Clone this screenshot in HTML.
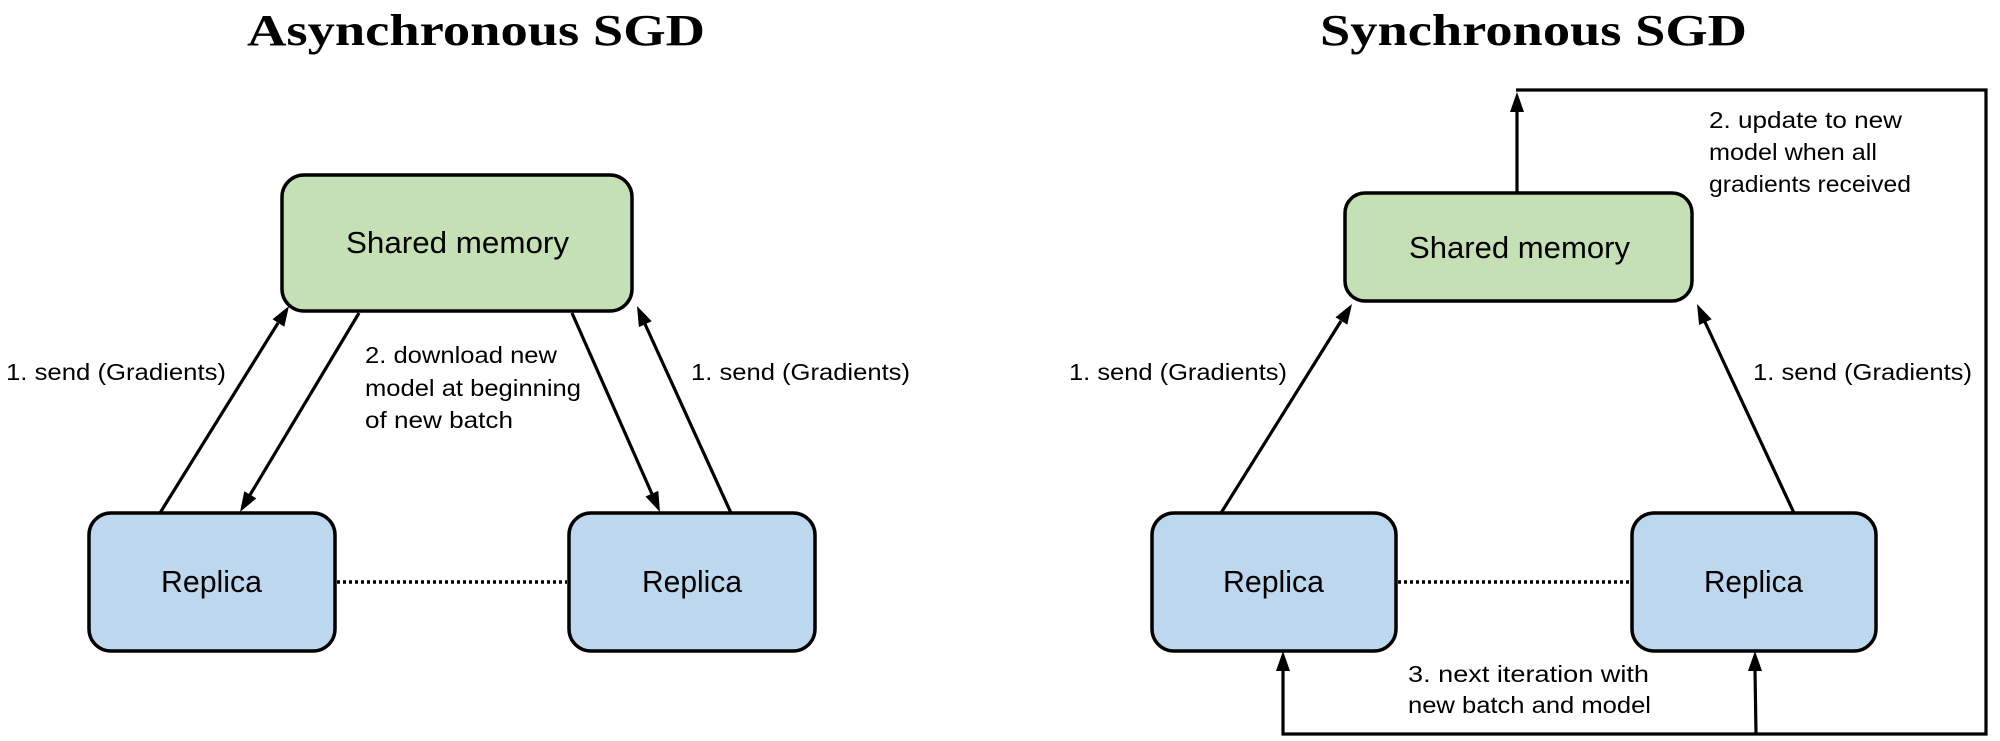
<!DOCTYPE html>
<html><head><meta charset="utf-8"><style>
html,body{margin:0;padding:0;background:#fff;}
svg{display:block;}
.t{font-family:"Liberation Serif",serif;font-weight:bold;font-size:44px;}
.b{font-family:"Liberation Sans",sans-serif;font-size:31px;}
.l{font-family:"Liberation Sans",sans-serif;font-size:23px;}
</style></head><body>
<svg width="2000" height="741" viewBox="0 0 2000 741" xmlns="http://www.w3.org/2000/svg">
<text class="t" x="247" y="45" textLength="458" lengthAdjust="spacingAndGlyphs">Asynchronous SGD</text>
<text class="t" x="1320" y="45" textLength="427" lengthAdjust="spacingAndGlyphs">Synchronous SGD</text>

<rect x="282" y="175" width="350" height="136" rx="22" fill="#c5e0b4" stroke="#000" stroke-width="3.5"/>
<rect x="89" y="513" width="246" height="138" rx="22" fill="#bdd7ee" stroke="#000" stroke-width="3.5"/>
<rect x="569" y="513" width="246" height="138" rx="22" fill="#bdd7ee" stroke="#000" stroke-width="3.5"/>
<text class="b" x="346" y="253" textLength="223" lengthAdjust="spacingAndGlyphs">Shared memory</text>
<text class="b" x="161" y="592" textLength="101" lengthAdjust="spacingAndGlyphs">Replica</text>
<text class="b" x="642" y="592" textLength="100" lengthAdjust="spacingAndGlyphs">Replica</text>
<line x1="337" y1="582" x2="567" y2="582" stroke="#000" stroke-width="3.5" stroke-dasharray="3,3"/>

<g stroke="#000" stroke-width="3.2" fill="none">
<line x1="160" y1="513" x2="278" y2="323"/>
<line x1="359" y1="313" x2="250" y2="495"/>
<line x1="572" y1="313" x2="652" y2="494"/>
<line x1="731" y1="513" x2="645" y2="324"/>
</g>
<g fill="#000">
<polygon points="289,306 284.3,326.7 272.5,319.3"/>
<polygon points="240,512 256.3,498.4 244.3,491.2"/>
<polygon points="660,512 658.3,490.9 645.5,496.5"/>
<polygon points="637,306 651.7,321.3 638.9,327.1"/>
</g>
<text class="l" x="6" y="380" textLength="220" lengthAdjust="spacingAndGlyphs">1. send (Gradients)</text>
<text class="l" x="691" y="380" textLength="219" lengthAdjust="spacingAndGlyphs">1. send (Gradients)</text>
<text class="l" x="365" y="363" textLength="192" lengthAdjust="spacingAndGlyphs">2. download new</text>
<text class="l" x="365" y="396" textLength="216" lengthAdjust="spacingAndGlyphs">model at beginning</text>
<text class="l" x="365" y="428" textLength="148" lengthAdjust="spacingAndGlyphs">of new batch</text>

<rect x="1345" y="193" width="347" height="108" rx="20" fill="#c5e0b4" stroke="#000" stroke-width="3.5"/>
<rect x="1152" y="513" width="244" height="138" rx="22" fill="#bdd7ee" stroke="#000" stroke-width="3.5"/>
<rect x="1632" y="513" width="244" height="138" rx="22" fill="#bdd7ee" stroke="#000" stroke-width="3.5"/>
<text class="b" x="1409" y="258" textLength="221" lengthAdjust="spacingAndGlyphs">Shared memory</text>
<text class="b" x="1223" y="592" textLength="101" lengthAdjust="spacingAndGlyphs">Replica</text>
<text class="b" x="1704" y="592" textLength="99" lengthAdjust="spacingAndGlyphs">Replica</text>
<line x1="1398" y1="582" x2="1630" y2="582" stroke="#000" stroke-width="3.5" stroke-dasharray="3,3"/>

<g stroke="#000" stroke-width="3.2" fill="none">
<line x1="1221" y1="513" x2="1341" y2="321"/>
<line x1="1794" y1="513" x2="1705" y2="322"/>
<line x1="1517" y1="193" x2="1517" y2="110"/>
<polyline points="1516,90 1986,90 1986,734 1283,734 1283,670"/>
<line x1="1756" y1="734" x2="1755" y2="670"/>
</g>
<g fill="#000">
<polygon points="1352,304 1347.3,324.6 1335.5,317.2"/>
<polygon points="1697,304 1711.7,319.2 1699.1,325"/>
<polygon points="1517,92 1510,112 1524,112"/>
<polygon points="1283,651 1276,671 1290,671"/>
<polygon points="1755,651 1748,671 1762,671"/>
</g>
<text class="l" x="1069" y="380" textLength="218" lengthAdjust="spacingAndGlyphs">1. send (Gradients)</text>
<text class="l" x="1753" y="380" textLength="219" lengthAdjust="spacingAndGlyphs">1. send (Gradients)</text>
<text class="l" x="1709" y="128" textLength="193" lengthAdjust="spacingAndGlyphs">2. update to new</text>
<text class="l" x="1709" y="160" textLength="168" lengthAdjust="spacingAndGlyphs">model when all</text>
<text class="l" x="1709" y="192" textLength="202" lengthAdjust="spacingAndGlyphs">gradients received</text>
<text class="l" x="1408" y="682" textLength="241" lengthAdjust="spacingAndGlyphs">3. next iteration with</text>
<text class="l" x="1408" y="713" textLength="243" lengthAdjust="spacingAndGlyphs">new batch and model</text>
</svg>
</body></html>
